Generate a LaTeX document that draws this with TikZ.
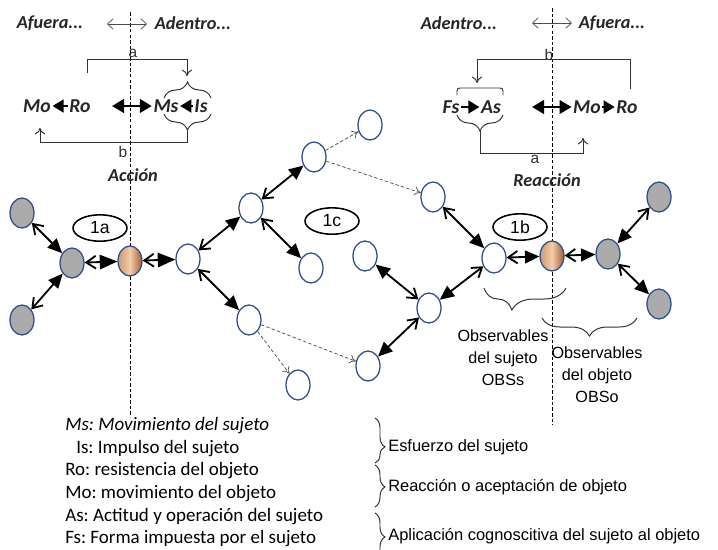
\documentclass[tikz,border=0pt]{standalone}
\usepackage{fontspec}
\setmainfont{Carlito}
\newfontfamily\arialfont{Liberation Sans}
\usepackage{xcolor}
\usetikzlibrary{arrows.meta,positioning,shapes.geometric,decorations.pathreplacing}
\definecolor{nodeblue}{HTML}{2F4C8C}
\definecolor{nodegray}{HTML}{ABABAB}
\definecolor{copper}{HTML}{9E5E34}
\definecolor{peach}{HTML}{F4CBA8}
\frenchspacing

\begin{document}
\begin{tikzpicture}[
  x=0.025cm,y=-0.025cm,
  obs/.style={ellipse,draw=nodeblue,line width=0.9pt,fill=white,minimum width=0.6cm,minimum height=0.75cm,inner sep=0pt},
  gobs/.style={obs,fill=nodegray},
  oobs/.style={obs,left color=copper!45!peach,right color=copper,middle color=peach},
  tag/.style={ellipse,draw,line width=1.1pt,fill=white,minimum width=1.35cm,minimum height=0.66cm,inner sep=0pt,font=\arialfont\fontsize{12.5}{12.5}\selectfont},
  link/.style={{Straight Barb[length=2.3mm,width=3.1mm]}-{Triangle[length=3.6mm,width=3.2mm]},line width=1.3pt},
  biglink/.style={link,{Straight Barb[length=2.4mm,width=3.2mm]}-{Triangle[length=4.4mm,width=3.6mm]}},
  weak/.style={-{To[length=1.6mm,width=2.2mm]},dash pattern=on 2.5pt off 1.5pt,draw=black!70,line width=0.5pt},
  lab/.style={font=\fontsize{13}{13}\selectfont\bfseries\itshape,text=black!85,inner sep=1pt},
  sym/.style={font=\fontsize{14}{14}\selectfont\bfseries\itshape,text=black!85,inner sep=1pt},
  letter/.style={font=\arialfont\fontsize{11}{11}\selectfont,text=black!80,inner sep=0.5pt},
  push/.style={-{Triangle[length=2.8mm,width=3.2mm]},line width=1.7pt},
  pull/.style={{Triangle[length=3mm,width=3.4mm]}-{Triangle[length=3mm,width=3.4mm]},line width=1.7pt},
  hint/.style={{Straight Barb[length=1.4mm,width=2.6mm]}-{Straight Barb[length=1.4mm,width=2.6mm]},line width=0.5pt,draw=black!70},
  bline/.style={line width=0.7pt,draw=black!80},
  bracketarr/.style={bline,-{To[length=1.6mm,width=2.6mm]}},
  brc/.style={bline,decorate,decoration={brace,amplitude=#1}},
  guide/.style={dash pattern=on 2.5pt off 1.5pt,line width=0.6pt},
  legend/.style={anchor=west,inner sep=0pt,font=\fontsize{13.5}{13.5}\selectfont},
  gloss/.style={anchor=west,inner sep=0pt,font=\arialfont\fontsize{11.7}{11.7}\selectfont},
  obstext/.style={align=center,inner sep=0pt,font=\arialfont\fontsize{11.5}{15.6}\selectfont}
]
\clip (0,0) rectangle (718,549);
\fill[white] (0,0) rectangle (718,549);

% dashed borders subject / object
\draw[guide] (130,12) -- (130,417);
\draw[guide] (552,8) -- (552,425);

% action (left, top)
\node[lab] (afl) at (50,23) {Afuera...};
\node[lab] (adl) at (193,23) {Adentro...};
\coordinate (hl1) at (107,24);
\coordinate (hl2) at (147,24);
\draw[hint] (hl1) -- (hl2);
\node[sym] (mol) at (37,106) {Mo};
\node[sym] (rol) at (80,106) {Ro};
\node[sym] (msl) at (166,106) {Ms};
\node[sym] (isl) at (201,106) {Is};
\coordinate (dl) at (112,106);
\draw[push] (rol) -- (mol);
\draw[push] (isl) -- (msl);
\draw[pull] (dl) -- (msl);
\draw[brc=0.4cm] (164,98) -- (211,98);
\draw[brc=0.4cm] (211,114) -- (164,114);
\draw[bracketarr] (87,73) -- (87,59) -- (187,59) -- (187,76);
\draw[bracketarr] (187,130) -- (187,142) -- (40,142) -- (40,128);
\node[letter] (al) at (133,53) {a};
\node[letter] (bl) at (123,152) {b};
\node[lab] (accion) at (133,175) {Acción};

% reaction (right, top)
\node[lab] (adr) at (459,23) {Adentro...};
\node[lab] (afr) at (612,23) {Afuera...};
\coordinate (hr1) at (532,23);
\coordinate (hr2) at (572,23);
\draw[hint] (hr1) -- (hr2);
\node[sym] (fsr) at (451,107) {Fs};
\node[sym] (asr) at (491,107) {As};
\node[sym] (mor) at (587,107) {Mo};
\node[sym] (ror) at (627,107) {Ro};
\coordinate (dr) at (532,107);
\draw[push] (fsr) -- (asr);
\draw[push] (mor) -- (ror);
\draw[pull] (dr) -- (mor);
\draw[bline,rounded corners=2pt] (457,95) -- (457,88) -- (503,88) -- (503,95);
\draw[brc=0.4cm] (503,115) -- (457,115);
\draw[bracketarr] (630,89) -- (630,59) -- (477,59) -- (477,83);
\draw[bracketarr] (480,131) -- (480,153) -- (583,153) -- (583,138);
\node[letter] (br) at (549,55) {b};
\node[letter] (ar) at (535,159) {a};
\node[lab] (reaccion) at (547,180) {Reacción};

% network
\node[gobs] (gl1) at (22,213) {};
\node[gobs] (gl2) at (72,263) {};
\node[gobs] (gl3) at (22,320) {};
\node[oobs] (or1) at (130,261) {};
\node[obs] (wa) at (188,259) {};
\node[obs] (wb) at (251,208) {};
\node[obs] (we) at (314,157) {};
\node[obs] (wf) at (370,125) {};
\node[obs] (wc) at (311,268) {};
\node[obs] (wd) at (249,320) {};
\node[obs] (wk) at (298,385) {};
\node[obs] (wg) at (433,197) {};
\node[obs] (wh) at (365,256) {};
\node[obs] (wi) at (429,308) {};
\node[obs] (wj) at (368,366) {};
\node[obs] (wl) at (494,258) {};
\node[oobs] (or2) at (552,256) {};
\node[gobs] (gr1) at (608,254) {};
\node[gobs] (gr2) at (659,197) {};
\node[gobs] (gr3) at (659,304) {};
\node[tag] (t1a) at (100,228) {1a};
\node[tag] (t1c) at (332,221) {1c};
\node[tag] (t1b) at (520,227) {1b};

\draw[link] (gl1) -- (gl2);
\draw[link] (gl3) -- (gl2);
\draw[biglink] (gl2) -- (or1);
\draw[biglink] (or1) -- (wa);
\draw[link] (wa) -- (wb);
\draw[link] (wa) -- (wd);
\draw[link] (wb) -- (we);
\draw[link] (wb) -- (wc);
\draw[link] (wg) -- (wl);
\draw[link] (wi) -- (wh);
\draw[link] (wl) -- (wi);
\draw[link] (wi) -- (wj);
\draw[link] (wl) -- (or2);
\draw[link] (or2) -- (gr1);
\draw[link] (gr2) -- (gr1);
\draw[link] (gr1) -- (gr3);
\draw[weak] (we) -- (wf);
\draw[weak] (we) -- (wg);
\draw[weak] (wd) -- (wj);
\draw[weak] (wd) -- (wk);

% observables
\draw[brc=0.55cm,decoration={aspect=0.66}] (566,288) -- (484,288);
\draw[brc=0.45cm,decoration={aspect=0.5}] (637,318) -- (542,318);
\node[obstext] (obss) at (503,358) {Observables\\del sujeto\\OBSs};
\node[obstext] (obso) at (597,375) {Observables\\del objeto\\OBSo};

% legend
\node[legend] (lms) at (65,426) {\itshape Ms: Movimiento del sujeto};
\node[legend] (lis) at (76,449) {Is: Impulso del sujeto};
\node[legend] (lro) at (65,471) {Ro: resistencia del objeto};
\node[legend] (lmo) at (65,494) {Mo: movimiento del objeto};
\node[legend] (las) at (65,517) {As: Actitud y operación del sujeto};
\node[legend] (lfs) at (65,539) {Fs: Forma impuesta por el sujeto};
\draw[brc=0.25cm,decoration={aspect=0.64}] (375,418) -- (375,463);
\draw[brc=0.25cm,decoration={aspect=0.52}] (375,465) -- (375,507);
\draw[brc=0.25cm,decoration={aspect=0.49}] (375,513) -- (375,562);
\node[gloss] (ges) at (388,447) {Esfuerzo del sujeto};
\node[gloss] (gre) at (388,487) {Reacción o aceptación de objeto};
\node[gloss] (gap) at (388,536) {Aplicación cognoscitiva del sujeto al objeto};
\end{tikzpicture}
\end{document}
